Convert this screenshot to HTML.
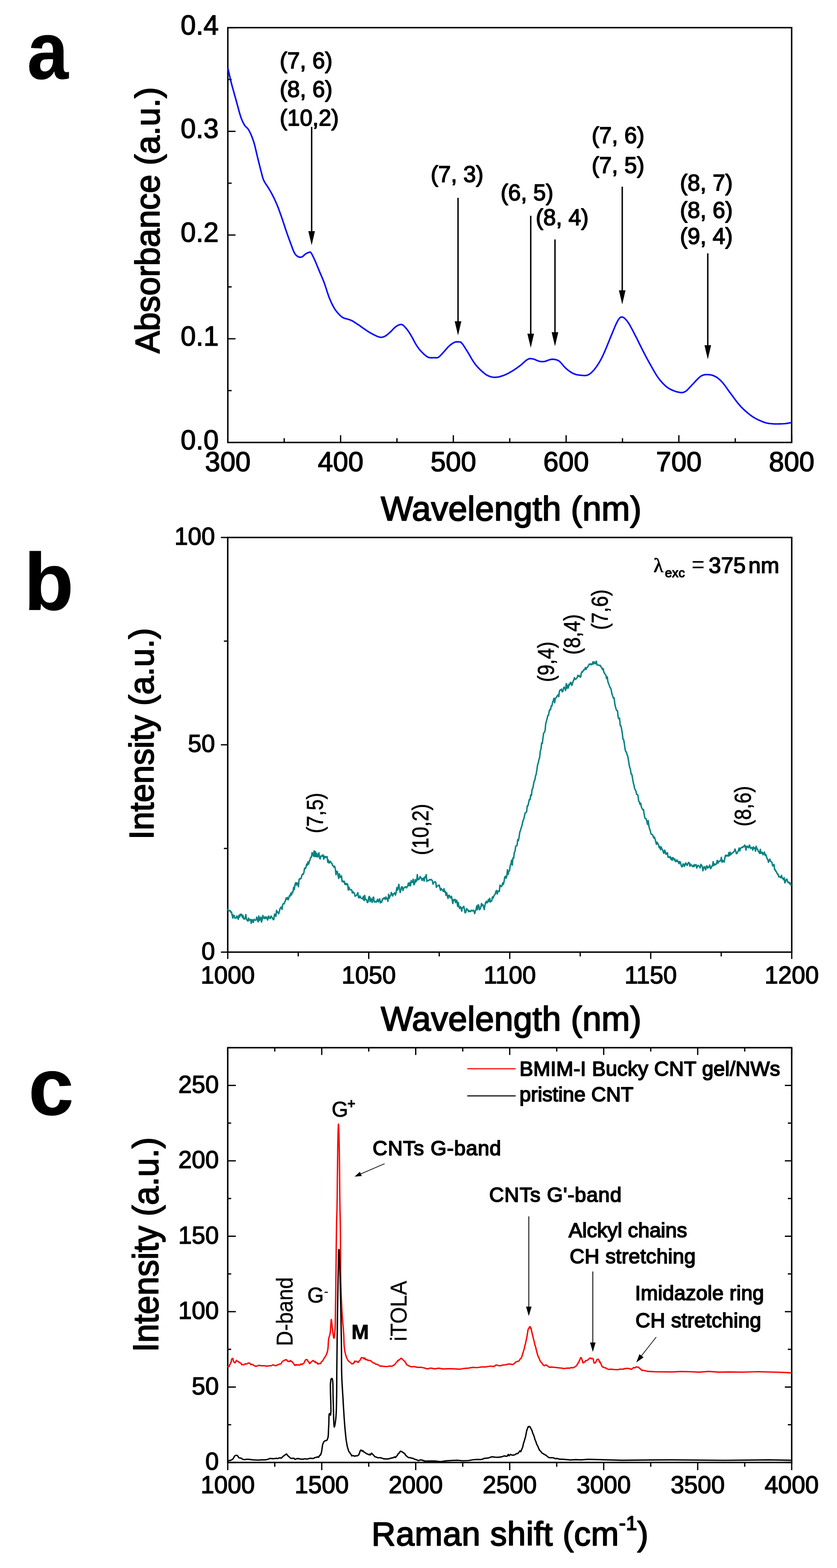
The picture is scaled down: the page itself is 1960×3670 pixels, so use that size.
<!DOCTYPE html><html><head><meta charset="utf-8"><title>Figure</title><style>html,body{margin:0;padding:0;background:#fff;overflow:hidden}svg{display:block}</style></head><body>
<svg width="1960" height="3670" viewBox="0 0 1960 3670" font-family="'Liberation Sans', Arial, sans-serif" fill="#000">
<rect width="1960" height="3670" fill="#fff"/>
<text x="0.0" y="0.0" font-size="190" text-anchor="start" font-weight="bold" stroke="#000" stroke-width="1.0" stroke-linejoin="round" transform="translate(63.8,184) scale(0.91,1)">a</text>
<text x="56.3" y="1427.0" font-size="190" text-anchor="start" font-weight="bold" stroke="#000" stroke-width="1.0" stroke-linejoin="round" >b</text>
<text x="66.7" y="2609.0" font-size="190" text-anchor="start" font-weight="bold" stroke="#000" stroke-width="1.0" stroke-linejoin="round" >c</text>
<line x1="533.5" y1="1035.6" x2="533.5" y2="1018.6" stroke="#000" stroke-width="3.0"/>
<text x="533.5" y="1103.0" font-size="64" text-anchor="middle" font-weight="normal" stroke="#000" stroke-width="1.7" stroke-linejoin="round" >300</text>
<line x1="797.6" y1="1035.6" x2="797.6" y2="1018.6" stroke="#000" stroke-width="3.0"/>
<text x="797.6" y="1103.0" font-size="64" text-anchor="middle" font-weight="normal" stroke="#000" stroke-width="1.7" stroke-linejoin="round" >400</text>
<line x1="1061.6" y1="1035.6" x2="1061.6" y2="1018.6" stroke="#000" stroke-width="3.0"/>
<text x="1061.6" y="1103.0" font-size="64" text-anchor="middle" font-weight="normal" stroke="#000" stroke-width="1.7" stroke-linejoin="round" >500</text>
<line x1="1325.7" y1="1035.6" x2="1325.7" y2="1018.6" stroke="#000" stroke-width="3.0"/>
<text x="1325.7" y="1103.0" font-size="64" text-anchor="middle" font-weight="normal" stroke="#000" stroke-width="1.7" stroke-linejoin="round" >600</text>
<line x1="1589.7" y1="1035.6" x2="1589.7" y2="1018.6" stroke="#000" stroke-width="3.0"/>
<text x="1589.7" y="1103.0" font-size="64" text-anchor="middle" font-weight="normal" stroke="#000" stroke-width="1.7" stroke-linejoin="round" >700</text>
<line x1="1853.8" y1="1035.6" x2="1853.8" y2="1018.6" stroke="#000" stroke-width="3.0"/>
<text x="1853.8" y="1103.0" font-size="64" text-anchor="middle" font-weight="normal" stroke="#000" stroke-width="1.7" stroke-linejoin="round" >800</text>
<line x1="665.5" y1="1035.6" x2="665.5" y2="1025.6" stroke="#000" stroke-width="3.0"/>
<line x1="929.6" y1="1035.6" x2="929.6" y2="1025.6" stroke="#000" stroke-width="3.0"/>
<line x1="1193.7" y1="1035.6" x2="1193.7" y2="1025.6" stroke="#000" stroke-width="3.0"/>
<line x1="1457.7" y1="1035.6" x2="1457.7" y2="1025.6" stroke="#000" stroke-width="3.0"/>
<line x1="1721.8" y1="1035.6" x2="1721.8" y2="1025.6" stroke="#000" stroke-width="3.0"/>
<line x1="533.5" y1="1035.6" x2="551.5" y2="1035.6" stroke="#000" stroke-width="3.0"/>
<text x="512.0" y="1051.6" font-size="64" text-anchor="end" font-weight="normal" stroke="#000" stroke-width="1.7" stroke-linejoin="round" >0.0</text>
<line x1="533.5" y1="792.9" x2="551.5" y2="792.9" stroke="#000" stroke-width="3.0"/>
<text x="512.0" y="808.9" font-size="64" text-anchor="end" font-weight="normal" stroke="#000" stroke-width="1.7" stroke-linejoin="round" >0.1</text>
<line x1="533.5" y1="550.1" x2="551.5" y2="550.1" stroke="#000" stroke-width="3.0"/>
<text x="512.0" y="566.1" font-size="64" text-anchor="end" font-weight="normal" stroke="#000" stroke-width="1.7" stroke-linejoin="round" >0.2</text>
<line x1="533.5" y1="307.4" x2="551.5" y2="307.4" stroke="#000" stroke-width="3.0"/>
<text x="512.0" y="323.4" font-size="64" text-anchor="end" font-weight="normal" stroke="#000" stroke-width="1.7" stroke-linejoin="round" >0.3</text>
<line x1="533.5" y1="64.7" x2="551.5" y2="64.7" stroke="#000" stroke-width="3.0"/>
<text x="512.0" y="80.7" font-size="64" text-anchor="end" font-weight="normal" stroke="#000" stroke-width="1.7" stroke-linejoin="round" >0.4</text>
<line x1="533.5" y1="914.2" x2="542.5" y2="914.2" stroke="#000" stroke-width="3.0"/>
<line x1="533.5" y1="671.5" x2="542.5" y2="671.5" stroke="#000" stroke-width="3.0"/>
<line x1="533.5" y1="428.8" x2="542.5" y2="428.8" stroke="#000" stroke-width="3.0"/>
<line x1="533.5" y1="186.1" x2="542.5" y2="186.1" stroke="#000" stroke-width="3.0"/>
<rect x="533.5" y="64.7" width="1320.3" height="970.8999999999999" fill="none" stroke="#000" stroke-width="3.4"/>
<text x="1197.1" y="1218.0" font-size="80" text-anchor="middle" font-weight="normal" stroke="#000" stroke-width="2.4" stroke-linejoin="round" letter-spacing="0.3" >Wavelength (nm)</text>
<text transform="translate(373.0,515.5) rotate(-90) scale(0.98,1)" font-size="80" text-anchor="middle" font-weight="normal" stroke="#000" stroke-width="2.4" stroke-linejoin="round">Absorbance (a.u.)</text>
<path d="M534.0,161.0 L534.8,164.6 L535.9,169.4 L537.2,175.2 L538.6,181.5 L540.1,188.0 L541.7,194.3 L543.3,200.5 L545.1,206.9 L547.0,213.5 L548.8,220.2 L550.7,226.9 L552.6,233.5 L554.4,240.2 L556.3,247.3 L558.2,254.3 L560.0,261.0 L561.8,267.2 L563.5,272.6 L565.1,277.1 L566.5,280.8 L567.9,284.0 L569.2,286.9 L570.7,289.5 L572.2,292.2 L573.9,294.6 L575.6,296.5 L577.5,298.3 L579.3,300.1 L581.2,302.4 L583.0,305.2 L584.8,308.7 L586.7,312.6 L588.6,316.9 L590.4,321.5 L592.2,326.3 L593.9,331.3 L595.5,336.6 L597.0,342.3 L598.4,348.2 L599.8,354.2 L601.2,360.2 L602.6,366.1 L604.1,372.1 L605.6,378.2 L607.1,384.3 L608.6,390.3 L610.0,395.9 L611.3,400.9 L612.5,405.3 L613.5,409.3 L614.4,412.8 L615.4,416.2 L616.5,419.4 L617.8,422.6 L619.4,425.7 L621.1,428.6 L623.0,431.4 L624.9,434.2 L626.8,437.0 L628.7,440.0 L630.5,443.1 L632.3,446.2 L634.2,449.4 L636.0,452.7 L637.8,456.1 L639.6,459.6 L641.4,463.3 L643.2,467.0 L645.0,470.9 L646.8,474.9 L648.6,479.1 L650.4,483.5 L652.2,488.2 L654.0,493.1 L655.8,498.2 L657.7,503.4 L659.5,508.6 L661.3,513.9 L663.1,519.3 L665.0,524.9 L666.9,530.6 L668.7,536.2 L670.5,541.5 L672.2,546.5 L673.8,551.0 L675.3,555.2 L676.7,559.1 L678.1,562.9 L679.5,566.6 L680.9,570.4 L682.4,574.3 L683.8,578.3 L685.2,582.3 L686.7,586.0 L688.1,589.3 L689.6,592.2 L691.1,594.5 L692.5,596.4 L694.0,597.9 L695.4,599.1 L696.9,600.1 L698.3,600.9 L699.8,601.5 L701.2,601.9 L702.6,602.1 L704.1,602.0 L705.5,601.8 L707.0,601.3 L708.5,600.5 L709.9,599.4 L711.4,598.1 L712.8,596.7 L714.3,595.4 L715.7,594.3 L717.2,593.4 L718.7,592.6 L720.3,591.8 L721.7,591.2 L723.1,590.7 L724.3,590.4 L725.2,590.2 L725.9,590.0 L726.5,590.0 L727.1,590.2 L727.8,590.9 L728.7,592.2 L729.9,594.1 L731.2,596.5 L732.6,599.4 L734.2,602.6 L735.8,606.0 L737.4,609.6 L739.1,613.4 L740.9,617.7 L742.7,622.1 L744.6,626.7 L746.5,631.3 L748.3,635.7 L750.1,640.0 L751.9,644.1 L753.7,648.3 L755.5,652.6 L757.3,657.0 L759.1,661.7 L760.9,666.8 L762.7,672.3 L764.6,678.0 L766.4,683.7 L768.2,689.0 L769.9,693.9 L771.6,698.3 L773.3,702.3 L774.9,706.1 L776.5,709.6 L778.2,712.9 L779.8,716.1 L781.4,719.0 L783.0,721.7 L784.6,724.2 L786.2,726.5 L787.9,728.8 L789.7,731.0 L791.6,733.2 L793.6,735.4 L795.7,737.6 L797.8,739.5 L799.9,741.3 L802.0,742.8 L804.1,743.9 L806.2,744.8 L808.4,745.4 L810.5,745.9 L812.5,746.4 L814.4,747.0 L816.1,747.6 L817.7,748.1 L819.1,748.5 L820.7,749.1 L822.3,749.8 L824.2,750.7 L826.4,751.9 L828.8,753.4 L831.3,755.0 L834.0,756.7 L836.6,758.4 L839.1,760.1 L841.6,761.8 L844.0,763.5 L846.5,765.3 L849.0,767.1 L851.4,768.8 L853.9,770.5 L856.3,772.1 L858.6,773.7 L861.0,775.3 L863.4,776.8 L865.9,778.4 L868.7,779.9 L871.8,781.6 L875.2,783.4 L878.8,785.1 L882.3,786.8 L885.6,788.1 L888.5,789.0 L891.0,789.4 L893.2,789.5 L895.1,789.3 L897.0,788.8 L898.8,788.2 L900.8,787.3 L902.9,786.2 L904.9,784.8 L907.0,783.3 L909.1,781.5 L911.1,779.7 L913.2,777.9 L915.3,775.9 L917.4,773.8 L919.6,771.5 L921.7,769.3 L923.7,767.3 L925.6,765.6 L927.4,764.2 L929.1,763.0 L930.8,762.1 L932.4,761.2 L933.9,760.6 L935.4,760.1 L936.8,759.7 L938.0,759.5 L939.1,759.4 L940.3,759.5 L941.5,759.9 L942.9,760.6 L944.4,761.6 L946.0,763.0 L947.6,764.7 L949.3,766.5 L951.0,768.5 L952.7,770.5 L954.3,772.6 L955.9,774.8 L957.5,777.1 L959.1,779.6 L960.8,782.3 L962.6,785.3 L964.5,788.7 L966.6,792.4 L968.6,796.4 L970.8,800.4 L972.9,804.2 L975.0,807.6 L977.0,810.7 L979.0,813.5 L981.0,816.2 L983.0,818.8 L985.1,821.2 L987.3,823.6 L989.6,826.0 L992.1,828.4 L994.6,830.7 L997.1,832.8 L999.7,834.6 L1002.2,836.0 L1004.7,836.9 L1007.3,837.3 L1009.9,837.4 L1012.4,837.4 L1014.8,837.3 L1017.0,837.2 L1018.9,837.3 L1020.6,837.4 L1022.1,837.5 L1023.6,837.3 L1025.2,836.9 L1026.9,836.0 L1028.8,834.6 L1030.8,832.7 L1032.9,830.6 L1035.0,828.2 L1037.1,825.9 L1039.2,823.6 L1041.3,821.3 L1043.3,819.0 L1045.4,816.6 L1047.5,814.2 L1049.5,812.0 L1051.6,810.0 L1053.7,808.2 L1055.8,806.5 L1057.9,804.9 L1060.0,803.5 L1062.0,802.3 L1063.9,801.4 L1065.7,800.7 L1067.5,800.3 L1069.2,800.1 L1070.8,800.0 L1072.3,800.1 L1073.8,800.2 L1075.1,800.2 L1076.2,800.2 L1077.3,800.3 L1078.4,800.6 L1079.6,801.5 L1081.2,803.0 L1083.1,805.3 L1085.2,808.3 L1087.5,811.8 L1089.9,815.6 L1092.4,819.5 L1094.8,823.3 L1097.2,827.2 L1099.7,831.5 L1102.2,835.8 L1104.7,840.2 L1107.2,844.3 L1109.7,848.0 L1112.1,851.4 L1114.5,854.5 L1116.9,857.3 L1119.4,860.1 L1121.9,862.7 L1124.5,865.3 L1127.2,867.9 L1130.1,870.5 L1133.0,872.9 L1135.9,875.2 L1138.9,877.2 L1141.8,878.9 L1144.7,880.2 L1147.5,881.3 L1150.3,882.1 L1153.2,882.7 L1156.1,883.0 L1159.1,883.1 L1162.2,883.0 L1165.5,882.5 L1168.8,881.9 L1172.1,881.0 L1175.5,880.0 L1178.8,878.9 L1182.1,877.6 L1185.4,876.2 L1188.7,874.5 L1192.0,872.8 L1195.3,870.9 L1198.6,869.0 L1201.9,867.0 L1205.3,864.8 L1208.7,862.5 L1212.0,860.1 L1215.2,857.8 L1218.4,855.4 L1221.5,852.9 L1224.5,850.2 L1227.5,847.5 L1230.4,844.9 L1233.1,842.7 L1235.7,841.1 L1238.0,840.1 L1240.1,839.5 L1242.0,839.4 L1243.9,839.5 L1245.9,839.7 L1248.0,840.1 L1250.4,840.7 L1252.9,841.6 L1255.5,842.8 L1258.0,843.9 L1260.5,844.9 L1262.9,845.6 L1265.1,846.0 L1267.2,846.3 L1269.2,846.4 L1271.2,846.4 L1273.2,846.3 L1275.2,846.0 L1277.3,845.5 L1279.4,844.8 L1281.6,844.0 L1283.7,843.1 L1285.7,842.4 L1287.6,841.8 L1289.4,841.4 L1291.0,841.1 L1292.5,840.9 L1294.0,840.8 L1295.6,840.9 L1297.4,841.1 L1299.3,841.4 L1301.3,841.8 L1303.3,842.3 L1305.4,843.1 L1307.6,844.1 L1309.8,845.6 L1312.1,847.6 L1314.5,850.2 L1316.9,853.1 L1319.4,856.1 L1322.0,859.0 L1324.6,861.6 L1327.3,864.0 L1330.2,866.3 L1333.1,868.5 L1336.0,870.6 L1339.0,872.4 L1341.9,874.0 L1344.8,875.2 L1347.7,876.2 L1350.6,876.9 L1353.4,877.5 L1356.3,877.9 L1359.2,878.2 L1362.1,878.5 L1365.1,878.8 L1368.0,879.0 L1370.9,878.9 L1373.8,878.5 L1376.5,877.7 L1379.1,876.4 L1381.6,874.8 L1384.1,872.9 L1386.5,870.6 L1388.9,868.1 L1391.3,865.3 L1393.8,862.2 L1396.4,858.7 L1398.9,855.0 L1401.5,851.1 L1403.9,847.1 L1406.2,843.1 L1408.3,839.2 L1410.2,835.4 L1412.1,831.5 L1413.9,827.4 L1415.9,822.9 L1418.0,818.0 L1420.4,812.4 L1422.9,806.1 L1425.6,799.6 L1428.3,792.9 L1430.9,786.5 L1433.4,780.5 L1435.8,774.8 L1438.1,769.1 L1440.4,763.6 L1442.7,758.6 L1444.8,754.1 L1446.8,750.4 L1448.6,747.5 L1450.3,745.2 L1451.8,743.6 L1453.3,742.5 L1455.0,742.0 L1456.8,742.0 L1458.8,742.6 L1460.9,743.7 L1463.1,745.4 L1465.4,747.7 L1467.7,750.5 L1470.2,753.7 L1472.8,757.5 L1475.4,762.0 L1478.1,767.0 L1481.0,772.3 L1483.9,778.0 L1486.9,783.8 L1490.1,789.9 L1493.4,796.5 L1496.7,803.4 L1500.2,810.4 L1503.6,817.3 L1507.0,823.9 L1510.4,830.3 L1513.8,836.8 L1517.2,843.1 L1520.6,849.3 L1523.9,855.2 L1527.0,860.7 L1529.9,865.8 L1532.7,870.6 L1535.4,875.2 L1538.1,879.4 L1540.9,883.5 L1543.8,887.5 L1546.9,891.3 L1550.1,895.0 L1553.4,898.5 L1556.8,901.8 L1560.2,904.8 L1563.8,907.5 L1567.6,909.9 L1571.6,912.0 L1575.7,913.8 L1579.8,915.4 L1583.6,916.7 L1587.2,917.6 L1590.4,918.3 L1593.3,918.7 L1596.0,918.9 L1598.6,918.7 L1601.2,918.0 L1603.9,916.9 L1606.7,915.2 L1609.4,912.8 L1612.1,910.1 L1614.9,907.0 L1617.7,903.9 L1620.7,900.8 L1623.9,897.5 L1627.3,893.8 L1630.7,890.0 L1634.2,886.4 L1637.5,883.3 L1640.7,880.8 L1643.7,879.1 L1646.5,878.0 L1649.2,877.3 L1651.9,876.9 L1654.6,876.8 L1657.4,876.8 L1660.2,876.9 L1663.0,877.2 L1665.8,877.7 L1668.6,878.5 L1671.4,879.5 L1674.2,880.8 L1677.0,882.3 L1679.7,884.1 L1682.3,886.1 L1685.1,888.4 L1687.9,891.1 L1690.9,894.2 L1694.0,897.8 L1697.2,902.0 L1700.5,906.5 L1703.9,911.3 L1707.3,916.1 L1710.9,920.9 L1714.6,925.8 L1718.3,930.9 L1722.2,936.2 L1726.1,941.3 L1730.2,946.3 L1734.3,951.0 L1738.6,955.4 L1743.0,959.7 L1747.5,963.7 L1752.0,967.6 L1756.6,971.2 L1761.1,974.4 L1765.6,977.3 L1770.3,980.0 L1774.9,982.3 L1779.4,984.4 L1783.7,986.2 L1787.8,987.8 L1791.5,989.1 L1794.7,990.0 L1797.8,990.6 L1801.0,991.1 L1804.2,991.5 L1807.9,991.8 L1812.1,992.1 L1816.7,992.2 L1821.4,992.2 L1826.1,992.1 L1830.6,992.0 L1834.6,991.8 L1838.2,991.5 L1841.7,991.1 L1845.0,990.6 L1847.8,990.1 L1850.2,989.7 L1852.0,989.4" fill="none" stroke="#0a0aff" stroke-width="3.6" stroke-linejoin="round" stroke-linecap="round" />
<text x="655.0" y="159.5" font-size="53" text-anchor="start" font-weight="normal" stroke="#000" stroke-width="1.9" stroke-linejoin="round" >(7, 6)</text>
<text x="655.0" y="226.5" font-size="53" text-anchor="start" font-weight="normal" stroke="#000" stroke-width="1.9" stroke-linejoin="round" >(8, 6)</text>
<text x="655.0" y="293.6" font-size="53" text-anchor="start" font-weight="normal" stroke="#000" stroke-width="1.9" stroke-linejoin="round" >(10,2)</text>
<line x1="729.8" y1="297.0" x2="729.8" y2="545.0" stroke="#000" stroke-width="3.3"/>
<path d="M722.0,541.0 L737.5,541.0 L729.8,574.0 Z" fill="#000"/>
<text x="1008.5" y="426.2" font-size="53" text-anchor="start" font-weight="normal" stroke="#000" stroke-width="1.9" stroke-linejoin="round" >(7, 3)</text>
<line x1="1072.6" y1="463.0" x2="1072.6" y2="756.0" stroke="#000" stroke-width="3.3"/>
<path d="M1064.8,752.0 L1080.3,752.0 L1072.6,785.0 Z" fill="#000"/>
<text x="1172.3" y="469.4" font-size="53" text-anchor="start" font-weight="normal" stroke="#000" stroke-width="1.9" stroke-linejoin="round" >(6, 5)</text>
<line x1="1242.8" y1="505.0" x2="1242.8" y2="785.0" stroke="#000" stroke-width="3.3"/>
<path d="M1235.0,781.0 L1250.5,781.0 L1242.8,814.0 Z" fill="#000"/>
<text x="1254.6" y="527.3" font-size="53" text-anchor="start" font-weight="normal" stroke="#000" stroke-width="1.9" stroke-linejoin="round" >(8, 4)</text>
<line x1="1299.6" y1="560.5" x2="1299.6" y2="781.5" stroke="#000" stroke-width="3.3"/>
<path d="M1291.8,777.5 L1307.3,777.5 L1299.6,810.5 Z" fill="#000"/>
<text x="1385.4" y="335.3" font-size="53" text-anchor="start" font-weight="normal" stroke="#000" stroke-width="1.9" stroke-linejoin="round" >(7, 6)</text>
<text x="1385.4" y="404.7" font-size="53" text-anchor="start" font-weight="normal" stroke="#000" stroke-width="1.9" stroke-linejoin="round" >(7, 5)</text>
<line x1="1457.1" y1="437.0" x2="1457.1" y2="683.5" stroke="#000" stroke-width="3.3"/>
<path d="M1449.3,679.5 L1464.8,679.5 L1457.1,712.5 Z" fill="#000"/>
<text x="1592.3" y="445.8" font-size="53" text-anchor="start" font-weight="normal" stroke="#000" stroke-width="1.9" stroke-linejoin="round" >(8, 7)</text>
<text x="1592.3" y="509.6" font-size="53" text-anchor="start" font-weight="normal" stroke="#000" stroke-width="1.9" stroke-linejoin="round" >(8, 6)</text>
<text x="1592.3" y="570.5" font-size="53" text-anchor="start" font-weight="normal" stroke="#000" stroke-width="1.9" stroke-linejoin="round" >(9, 4)</text>
<line x1="1657.4" y1="593.0" x2="1657.4" y2="812.0" stroke="#000" stroke-width="3.3"/>
<path d="M1649.7,808.0 L1665.2,808.0 L1657.4,841.0 Z" fill="#000"/>
<line x1="533.3" y1="2228.5" x2="533.3" y2="2244.5" stroke="#000" stroke-width="3.0"/>
<text x="533.3" y="2301.5" font-size="57" text-anchor="middle" font-weight="normal" stroke="#000" stroke-width="1.7" stroke-linejoin="round" >1000</text>
<line x1="863.5" y1="2228.5" x2="863.5" y2="2244.5" stroke="#000" stroke-width="3.0"/>
<text x="863.5" y="2301.5" font-size="57" text-anchor="middle" font-weight="normal" stroke="#000" stroke-width="1.7" stroke-linejoin="round" >1050</text>
<line x1="1193.7" y1="2228.5" x2="1193.7" y2="2244.5" stroke="#000" stroke-width="3.0"/>
<text x="1193.7" y="2301.5" font-size="57" text-anchor="middle" font-weight="normal" stroke="#000" stroke-width="1.7" stroke-linejoin="round" >1100</text>
<line x1="1523.8" y1="2228.5" x2="1523.8" y2="2244.5" stroke="#000" stroke-width="3.0"/>
<text x="1523.8" y="2301.5" font-size="57" text-anchor="middle" font-weight="normal" stroke="#000" stroke-width="1.7" stroke-linejoin="round" >1150</text>
<line x1="1854.0" y1="2228.5" x2="1854.0" y2="2244.5" stroke="#000" stroke-width="3.0"/>
<text x="1854.0" y="2301.5" font-size="57" text-anchor="middle" font-weight="normal" stroke="#000" stroke-width="1.7" stroke-linejoin="round" >1200</text>
<line x1="698.4" y1="2228.5" x2="698.4" y2="2238.5" stroke="#000" stroke-width="3.0"/>
<line x1="1028.6" y1="2228.5" x2="1028.6" y2="2238.5" stroke="#000" stroke-width="3.0"/>
<line x1="1358.7" y1="2228.5" x2="1358.7" y2="2238.5" stroke="#000" stroke-width="3.0"/>
<line x1="1688.9" y1="2228.5" x2="1688.9" y2="2238.5" stroke="#000" stroke-width="3.0"/>
<line x1="533.3" y1="2228.5" x2="517.3" y2="2228.5" stroke="#000" stroke-width="3.0"/>
<text x="503.5" y="2245.5" font-size="57" text-anchor="end" font-weight="normal" stroke="#000" stroke-width="1.7" stroke-linejoin="round" >0</text>
<line x1="533.3" y1="1743.2" x2="517.3" y2="1743.2" stroke="#000" stroke-width="3.0"/>
<text x="503.5" y="1760.2" font-size="57" text-anchor="end" font-weight="normal" stroke="#000" stroke-width="1.7" stroke-linejoin="round" >50</text>
<line x1="533.3" y1="1258.0" x2="517.3" y2="1258.0" stroke="#000" stroke-width="3.0"/>
<text x="503.5" y="1275.0" font-size="57" text-anchor="end" font-weight="normal" stroke="#000" stroke-width="1.7" stroke-linejoin="round" >100</text>
<line x1="533.3" y1="1985.9" x2="524.3" y2="1985.9" stroke="#000" stroke-width="3.0"/>
<line x1="533.3" y1="1500.6" x2="524.3" y2="1500.6" stroke="#000" stroke-width="3.0"/>
<rect x="533.3" y="1258.0" width="1320.7" height="970.5" fill="none" stroke="#000" stroke-width="3.4"/>
<text x="1197.0" y="2411.5" font-size="80" text-anchor="middle" font-weight="normal" stroke="#000" stroke-width="2.4" stroke-linejoin="round" letter-spacing="0.3" >Wavelength (nm)</text>
<text transform="translate(359.4,1717.3) rotate(-90) scale(0.977,1)" font-size="80" text-anchor="middle" font-weight="normal" stroke="#000" stroke-width="2.4" stroke-linejoin="round">Intensity (a.u.)</text>
<path d="M534.0,2128.6 L535.6,2132.1 L537.2,2131.6 L538.8,2130.9 L540.4,2135.0 L542.0,2134.6 L543.6,2141.3 L545.2,2148.9 L546.8,2142.0 L548.4,2142.7 L550.0,2148.9 L551.6,2149.0 L553.2,2148.3 L554.8,2143.9 L556.4,2148.2 L558.0,2151.6 L559.6,2142.3 L561.2,2146.3 L562.8,2139.7 L564.4,2142.5 L566.0,2140.0 L567.6,2147.5 L569.2,2143.1 L570.8,2150.8 L572.4,2151.0 L574.0,2150.4 L575.6,2140.7 L577.2,2151.0 L578.8,2154.3 L580.4,2155.9 L582.0,2148.9 L583.6,2154.1 L585.2,2151.9 L586.8,2152.6 L588.4,2161.0 L590.0,2152.1 L591.6,2155.2 L593.2,2159.0 L594.8,2151.7 L596.4,2153.4 L598.0,2153.8 L599.6,2153.1 L601.2,2146.7 L602.8,2152.2 L604.4,2157.6 L606.0,2143.9 L607.6,2154.5 L609.2,2150.6 L610.8,2146.6 L612.4,2158.3 L614.0,2152.1 L615.6,2142.6 L617.2,2148.1 L618.8,2150.0 L620.4,2146.1 L622.0,2149.8 L623.6,2146.2 L625.2,2149.6 L626.8,2153.4 L628.4,2144.1 L630.0,2148.8 L631.6,2146.4 L633.2,2149.7 L634.8,2144.1 L636.4,2146.9 L638.0,2148.3 L639.6,2152.5 L641.2,2152.4 L642.8,2139.6 L644.4,2140.2 L646.0,2144.9 L647.6,2130.6 L649.2,2135.4 L650.8,2134.8 L652.4,2138.8 L654.0,2134.0 L655.6,2127.1 L657.2,2124.6 L658.8,2122.7 L660.4,2128.4 L662.0,2116.9 L663.6,2115.0 L665.2,2115.6 L666.8,2111.0 L668.4,2108.4 L670.0,2101.9 L671.6,2104.8 L673.2,2100.6 L674.8,2105.9 L676.4,2101.3 L678.0,2096.1 L679.6,2097.1 L681.2,2090.3 L682.8,2094.5 L684.4,2087.5 L686.0,2087.9 L687.6,2076.9 L689.2,2082.1 L690.8,2070.3 L692.4,2066.2 L694.0,2071.6 L695.6,2066.2 L697.2,2068.4 L698.8,2075.3 L700.4,2058.3 L702.0,2056.4 L703.6,2057.2 L705.2,2055.5 L706.8,2049.2 L708.4,2045.8 L710.0,2046.6 L711.6,2042.4 L713.2,2032.0 L714.8,2033.1 L716.4,2030.5 L718.0,2022.5 L719.6,2025.5 L721.2,2017.2 L722.8,2022.5 L724.4,2015.9 L726.0,2012.5 L727.6,2006.7 L729.2,2006.4 L730.8,1995.7 L732.4,1998.1 L734.0,2003.8 L735.6,1991.7 L737.2,2005.1 L738.8,1993.2 L740.4,2004.9 L742.0,1997.9 L743.6,2005.9 L745.2,2003.3 L746.8,1996.0 L748.4,2009.1 L750.0,2010.3 L751.6,2003.7 L753.2,2003.1 L754.8,2004.0 L756.4,2000.8 L758.0,2010.9 L759.6,2004.1 L761.2,2007.2 L762.8,2004.9 L764.4,2006.8 L766.0,2005.1 L767.6,2018.2 L769.2,2013.2 L770.8,2020.0 L772.4,2017.4 L774.0,2016.0 L775.6,2019.7 L777.2,2020.7 L778.8,2025.6 L780.4,2026.5 L782.0,2029.6 L783.6,2027.5 L785.2,2033.1 L786.8,2047.2 L788.4,2039.3 L790.0,2040.1 L791.6,2049.0 L793.2,2056.1 L794.8,2045.2 L796.4,2053.0 L798.0,2053.2 L799.6,2050.0 L801.2,2063.5 L802.8,2062.0 L804.4,2064.3 L806.0,2062.5 L807.6,2069.9 L809.2,2067.2 L810.8,2070.8 L812.4,2068.2 L814.0,2069.5 L815.6,2083.1 L817.2,2076.5 L818.8,2082.0 L820.4,2082.3 L822.0,2082.1 L823.6,2083.4 L825.2,2090.2 L826.8,2087.4 L828.4,2089.4 L830.0,2091.4 L831.6,2097.8 L833.2,2096.5 L834.8,2096.0 L836.4,2092.5 L838.0,2089.4 L839.6,2100.8 L841.2,2101.5 L842.8,2097.0 L844.4,2100.7 L846.0,2102.3 L847.6,2103.0 L849.2,2104.0 L850.8,2098.1 L852.4,2107.7 L854.0,2095.6 L855.6,2105.8 L857.2,2104.7 L858.8,2107.1 L860.4,2112.4 L862.0,2111.2 L863.6,2099.8 L865.2,2098.0 L866.8,2110.2 L868.4,2102.4 L870.0,2107.7 L871.6,2112.2 L873.2,2101.4 L874.8,2099.8 L876.4,2111.3 L878.0,2110.8 L879.6,2109.9 L881.2,2111.5 L882.8,2107.7 L884.4,2104.8 L886.0,2111.1 L887.6,2107.3 L889.2,2103.9 L890.8,2113.4 L892.4,2110.2 L894.0,2111.5 L895.6,2104.1 L897.2,2104.6 L898.8,2101.9 L900.4,2101.2 L902.0,2105.1 L903.6,2099.5 L905.2,2103.8 L906.8,2102.8 L908.4,2109.7 L910.0,2093.0 L911.6,2102.6 L913.2,2097.1 L914.8,2096.5 L916.4,2088.9 L918.0,2092.5 L919.6,2097.1 L921.2,2092.3 L922.8,2092.1 L924.4,2089.4 L926.0,2095.1 L927.6,2088.7 L929.2,2077.7 L930.8,2083.7 L932.4,2076.8 L934.0,2070.0 L935.6,2081.5 L937.2,2089.2 L938.8,2082.3 L940.4,2075.7 L942.0,2075.8 L943.6,2084.4 L945.2,2079.0 L946.8,2077.5 L948.4,2076.1 L950.0,2075.5 L951.6,2078.1 L953.2,2076.0 L954.8,2073.5 L956.4,2066.7 L958.0,2072.8 L959.6,2066.2 L961.2,2073.3 L962.8,2061.3 L964.4,2065.4 L966.0,2065.0 L967.6,2057.8 L969.2,2070.8 L970.8,2068.7 L972.4,2059.0 L974.0,2063.9 L975.6,2061.4 L977.2,2046.9 L978.8,2059.4 L980.4,2057.4 L982.0,2057.5 L983.6,2051.6 L985.2,2054.9 L986.8,2054.9 L988.4,2060.9 L990.0,2056.8 L991.6,2055.1 L993.2,2062.1 L994.8,2052.6 L996.4,2053.5 L998.0,2047.2 L999.6,2063.1 L1001.2,2060.7 L1002.8,2061.0 L1004.4,2060.4 L1006.0,2058.5 L1007.6,2059.7 L1009.2,2058.3 L1010.8,2059.4 L1012.4,2061.6 L1014.0,2069.3 L1015.6,2066.1 L1017.2,2064.6 L1018.8,2063.7 L1020.4,2065.0 L1022.0,2076.9 L1023.6,2073.6 L1025.2,2073.3 L1026.8,2073.2 L1028.4,2071.4 L1030.0,2077.9 L1031.6,2083.9 L1033.2,2079.7 L1034.8,2082.0 L1036.4,2083.5 L1038.0,2086.5 L1039.6,2080.1 L1041.2,2087.7 L1042.8,2086.3 L1044.4,2095.6 L1046.0,2089.4 L1047.6,2097.0 L1049.2,2102.7 L1050.8,2095.6 L1052.4,2095.7 L1054.0,2100.7 L1055.6,2101.3 L1057.2,2098.1 L1058.8,2106.2 L1060.4,2114.8 L1062.0,2105.8 L1063.6,2107.5 L1065.2,2105.0 L1066.8,2112.7 L1068.4,2106.9 L1070.0,2108.9 L1071.6,2121.2 L1073.2,2112.5 L1074.8,2123.0 L1076.4,2126.4 L1078.0,2122.0 L1079.6,2124.8 L1081.2,2132.6 L1082.8,2124.1 L1084.4,2123.6 L1086.0,2121.4 L1087.6,2129.0 L1089.2,2136.6 L1090.8,2135.1 L1092.4,2127.0 L1094.0,2127.9 L1095.6,2129.9 L1097.2,2133.8 L1098.8,2131.5 L1100.4,2133.3 L1102.0,2133.5 L1103.6,2130.5 L1105.2,2131.4 L1106.8,2132.1 L1108.4,2130.3 L1110.0,2132.5 L1111.6,2138.3 L1113.2,2131.9 L1114.8,2128.9 L1116.4,2120.3 L1118.0,2129.2 L1119.6,2117.8 L1121.2,2119.5 L1122.8,2129.2 L1124.4,2127.6 L1126.0,2122.8 L1127.6,2114.7 L1129.2,2119.9 L1130.8,2117.5 L1132.4,2122.5 L1134.0,2128.8 L1135.6,2118.3 L1137.2,2112.5 L1138.8,2109.5 L1140.4,2113.3 L1142.0,2111.4 L1143.6,2105.5 L1145.2,2109.9 L1146.8,2102.5 L1148.4,2111.4 L1150.0,2109.6 L1151.6,2108.0 L1153.2,2099.2 L1154.8,2102.0 L1156.4,2097.4 L1158.0,2094.5 L1159.6,2092.9 L1161.2,2086.7 L1162.8,2084.1 L1164.4,2092.5 L1166.0,2085.9 L1167.6,2085.5 L1169.2,2086.8 L1170.8,2071.8 L1172.4,2073.5 L1174.0,2075.1 L1175.6,2073.2 L1177.2,2066.6 L1178.8,2070.0 L1180.4,2062.9 L1182.0,2053.0 L1183.6,2050.9 L1185.2,2055.3 L1186.8,2050.1 L1188.4,2035.4 L1190.0,2046.5 L1191.6,2039.0 L1193.2,2038.3 L1194.8,2026.0 L1196.4,2021.8 L1198.0,2013.2 L1199.6,2025.1 L1201.2,2007.6 L1202.8,2008.7 L1204.4,1995.2 L1206.0,1992.7 L1207.6,1980.7 L1209.2,1979.8 L1210.8,1979.0 L1212.4,1965.0 L1214.0,1967.4 L1215.6,1958.7 L1217.2,1947.7 L1218.8,1943.7 L1220.4,1937.9 L1222.0,1933.5 L1223.6,1926.1 L1225.2,1919.6 L1226.8,1916.2 L1228.4,1908.4 L1230.0,1902.3 L1231.6,1901.7 L1233.2,1899.8 L1234.8,1885.9 L1236.4,1886.0 L1238.0,1878.0 L1239.6,1871.1 L1241.2,1871.7 L1242.8,1860.8 L1244.4,1862.0 L1246.0,1847.6 L1247.6,1845.4 L1249.2,1836.7 L1250.8,1828.2 L1252.4,1826.2 L1254.0,1816.5 L1255.6,1812.0 L1257.2,1802.1 L1258.8,1790.4 L1260.4,1785.8 L1262.0,1778.1 L1263.6,1773.1 L1265.2,1758.0 L1266.8,1753.0 L1268.4,1738.9 L1270.0,1739.8 L1271.6,1725.9 L1273.2,1715.6 L1274.8,1714.0 L1276.4,1710.4 L1278.0,1693.4 L1279.6,1687.7 L1281.2,1682.2 L1282.8,1674.6 L1284.4,1674.3 L1286.0,1664.9 L1287.6,1660.6 L1289.2,1661.0 L1290.8,1652.1 L1292.4,1652.6 L1294.0,1644.0 L1295.6,1639.8 L1297.2,1634.5 L1298.8,1644.9 L1300.4,1634.3 L1302.0,1633.7 L1303.6,1630.3 L1305.2,1628.7 L1306.8,1626.1 L1308.4,1630.8 L1310.0,1618.3 L1311.6,1614.9 L1313.2,1615.4 L1314.8,1612.9 L1316.4,1619.2 L1318.0,1618.3 L1319.6,1610.8 L1321.2,1608.2 L1322.8,1610.9 L1324.4,1616.2 L1326.0,1600.0 L1327.6,1611.0 L1329.2,1604.0 L1330.8,1610.5 L1332.4,1601.5 L1334.0,1602.9 L1335.6,1597.1 L1337.2,1597.4 L1338.8,1604.4 L1340.4,1600.8 L1342.0,1594.8 L1343.6,1591.5 L1345.2,1586.2 L1346.8,1590.0 L1348.4,1589.6 L1350.0,1587.8 L1351.6,1586.1 L1353.2,1580.7 L1354.8,1582.9 L1356.4,1581.3 L1358.0,1584.5 L1359.6,1584.9 L1361.2,1576.1 L1362.8,1572.1 L1364.4,1572.9 L1366.0,1569.2 L1367.6,1567.0 L1369.2,1567.7 L1370.8,1562.4 L1372.4,1566.6 L1374.0,1562.5 L1375.6,1562.2 L1377.2,1559.2 L1378.8,1556.0 L1380.4,1554.1 L1382.0,1555.7 L1383.6,1553.7 L1385.2,1555.8 L1386.8,1554.5 L1388.4,1549.2 L1390.0,1554.2 L1391.6,1549.2 L1393.2,1552.0 L1394.8,1553.5 L1396.4,1547.6 L1398.0,1556.0 L1399.6,1556.9 L1401.2,1556.7 L1402.8,1556.7 L1404.4,1558.1 L1406.0,1557.4 L1407.6,1561.6 L1409.2,1562.6 L1410.8,1567.1 L1412.4,1565.0 L1414.0,1573.1 L1415.6,1575.9 L1417.2,1578.2 L1418.8,1580.8 L1420.4,1588.2 L1422.0,1584.3 L1423.6,1596.2 L1425.2,1599.7 L1426.8,1604.3 L1428.4,1609.3 L1430.0,1610.2 L1431.6,1616.6 L1433.2,1624.8 L1434.8,1629.3 L1436.4,1633.9 L1438.0,1633.2 L1439.6,1646.3 L1441.2,1654.4 L1442.8,1659.9 L1444.4,1663.3 L1446.0,1663.4 L1447.6,1679.2 L1449.2,1682.2 L1450.8,1680.7 L1452.4,1698.3 L1454.0,1698.8 L1455.6,1706.7 L1457.2,1716.1 L1458.8,1730.0 L1460.4,1731.1 L1462.0,1740.4 L1463.6,1752.7 L1465.2,1759.2 L1466.8,1760.0 L1468.4,1766.5 L1470.0,1769.8 L1471.6,1778.7 L1473.2,1789.5 L1474.8,1796.1 L1476.4,1801.9 L1478.0,1811.9 L1479.6,1812.4 L1481.2,1821.8 L1482.8,1831.3 L1484.4,1837.2 L1486.0,1845.1 L1487.6,1848.6 L1489.2,1851.6 L1490.8,1859.3 L1492.4,1859.5 L1494.0,1862.1 L1495.6,1874.8 L1497.2,1877.0 L1498.8,1882.8 L1500.4,1880.0 L1502.0,1889.0 L1503.6,1892.4 L1505.2,1895.6 L1506.8,1894.7 L1508.4,1905.7 L1510.0,1914.1 L1511.6,1916.3 L1513.2,1916.7 L1514.8,1922.8 L1516.4,1929.6 L1518.0,1920.8 L1519.6,1934.1 L1521.2,1940.3 L1522.8,1944.4 L1524.4,1951.6 L1526.0,1953.0 L1527.6,1953.3 L1529.2,1956.4 L1530.8,1961.1 L1532.4,1959.3 L1534.0,1963.8 L1535.6,1970.0 L1537.2,1976.4 L1538.8,1971.3 L1540.4,1974.2 L1542.0,1977.6 L1543.6,1984.0 L1545.2,1981.4 L1546.8,1989.0 L1548.4,1982.3 L1550.0,1987.2 L1551.6,1989.1 L1553.2,1994.5 L1554.8,1997.3 L1556.4,1989.8 L1558.0,1993.6 L1559.6,1999.6 L1561.2,1997.6 L1562.8,1995.8 L1564.4,2006.4 L1566.0,2005.7 L1567.6,2007.0 L1569.2,2004.6 L1570.8,2011.2 L1572.4,2007.7 L1574.0,2013.6 L1575.6,2007.3 L1577.2,2008.5 L1578.8,2013.2 L1580.4,2010.9 L1582.0,2016.7 L1583.6,2016.0 L1585.2,2012.6 L1586.8,2016.9 L1588.4,2016.2 L1590.0,2021.5 L1591.6,2016.6 L1593.2,2017.9 L1594.8,2024.5 L1596.4,2028.7 L1598.0,2028.4 L1599.6,2021.9 L1601.2,2022.9 L1602.8,2028.0 L1604.4,2022.4 L1606.0,2019.7 L1607.6,2024.0 L1609.2,2025.5 L1610.8,2021.2 L1612.4,2018.5 L1614.0,2019.6 L1615.6,2027.4 L1617.2,2022.5 L1618.8,2025.0 L1620.4,2026.6 L1622.0,2028.3 L1623.6,2025.1 L1625.2,2028.4 L1626.8,2023.7 L1628.4,2025.8 L1630.0,2023.7 L1631.6,2031.7 L1633.2,2027.8 L1634.8,2025.4 L1636.4,2027.0 L1638.0,2027.7 L1639.6,2031.2 L1641.2,2023.0 L1642.8,2025.1 L1644.4,2027.5 L1646.0,2038.0 L1647.6,2032.3 L1649.2,2028.4 L1650.8,2031.2 L1652.4,2035.9 L1654.0,2027.4 L1655.6,2026.7 L1657.2,2032.1 L1658.8,2029.2 L1660.4,2029.4 L1662.0,2024.8 L1663.6,2033.1 L1665.2,2031.8 L1666.8,2027.2 L1668.4,2027.1 L1670.0,2016.7 L1671.6,2025.7 L1673.2,2022.1 L1674.8,2023.7 L1676.4,2023.9 L1678.0,2019.5 L1679.6,2013.9 L1681.2,2020.6 L1682.8,2015.8 L1684.4,2016.5 L1686.0,2014.6 L1687.6,2014.7 L1689.2,2006.6 L1690.8,2018.3 L1692.4,2013.8 L1694.0,2015.8 L1695.6,2017.8 L1697.2,2009.6 L1698.8,2001.9 L1700.4,2004.0 L1702.0,2001.7 L1703.6,2003.1 L1705.2,2004.0 L1706.8,1995.4 L1708.4,2002.7 L1710.0,1995.0 L1711.6,2000.4 L1713.2,1997.9 L1714.8,1996.2 L1716.4,1996.1 L1718.0,1993.5 L1719.6,1992.2 L1721.2,1987.3 L1722.8,1992.2 L1724.4,1998.0 L1726.0,1997.4 L1727.6,1994.0 L1729.2,1990.8 L1730.8,1984.9 L1732.4,1991.6 L1734.0,1985.3 L1735.6,1984.5 L1737.2,1982.9 L1738.8,1983.7 L1740.4,1981.2 L1742.0,1982.0 L1743.6,1977.9 L1745.2,1980.3 L1746.8,1989.6 L1748.4,1981.1 L1750.0,1980.5 L1751.6,1983.4 L1753.2,1984.2 L1754.8,1977.9 L1756.4,1981.5 L1758.0,1985.9 L1759.6,1984.0 L1761.2,1984.0 L1762.8,1989.7 L1764.4,1982.3 L1766.0,1985.7 L1767.6,1984.3 L1769.2,1992.3 L1770.8,1980.7 L1772.4,1986.2 L1774.0,1987.6 L1775.6,1992.8 L1777.2,1993.6 L1778.8,1997.5 L1780.4,1987.9 L1782.0,1997.5 L1783.6,1994.9 L1785.2,1995.0 L1786.8,2000.7 L1788.4,1997.0 L1790.0,1994.4 L1791.6,2002.2 L1793.2,1999.9 L1794.8,2004.7 L1796.4,2010.1 L1798.0,2011.8 L1799.6,2018.3 L1801.2,2013.8 L1802.8,2010.9 L1804.4,2015.7 L1806.0,2017.2 L1807.6,2018.4 L1809.2,2026.8 L1810.8,2025.5 L1812.4,2023.4 L1814.0,2035.8 L1815.6,2035.6 L1817.2,2040.0 L1818.8,2041.6 L1820.4,2046.0 L1822.0,2046.0 L1823.6,2052.3 L1825.2,2051.2 L1826.8,2052.7 L1828.4,2054.3 L1830.0,2049.0 L1831.6,2055.0 L1833.2,2056.0 L1834.8,2058.9 L1836.4,2054.5 L1838.0,2066.4 L1839.6,2062.1 L1841.2,2058.5 L1842.8,2057.8 L1844.4,2064.0 L1846.0,2065.8 L1847.6,2064.6 L1849.2,2068.7 L1850.8,2067.1 L1852.4,2072.5" fill="none" stroke="#058282" stroke-width="3.4" stroke-linejoin="round" stroke-linecap="round" stroke-linejoin="miter"/>
<text transform="translate(1296.5,1549.0) rotate(-90) scale(0.85,1)" font-size="54" text-anchor="middle" font-weight="normal" stroke="#000" stroke-width="1.0" stroke-linejoin="round">(9,4)</text>
<text transform="translate(1357.5,1485.0) rotate(-90) scale(0.85,1)" font-size="54" text-anchor="middle" font-weight="normal" stroke="#000" stroke-width="1.0" stroke-linejoin="round">(8,4)</text>
<text transform="translate(1423.0,1427.0) rotate(-90) scale(0.85,1)" font-size="54" text-anchor="middle" font-weight="normal" stroke="#000" stroke-width="1.0" stroke-linejoin="round">(7,6)</text>
<text transform="translate(1757.5,1887.0) rotate(-90) scale(0.85,1)" font-size="54" text-anchor="middle" font-weight="normal" stroke="#000" stroke-width="1.0" stroke-linejoin="round">(8,6)</text>
<text transform="translate(756.0,1903.0) rotate(-90) scale(0.85,1)" font-size="54" text-anchor="middle" font-weight="normal" stroke="#000" stroke-width="1.0" stroke-linejoin="round">(7,5)</text>
<text transform="translate(1003.0,1941.5) rotate(-90) scale(0.85,1)" font-size="54" text-anchor="middle" font-weight="normal" stroke="#000" stroke-width="1.0" stroke-linejoin="round">(10,2)</text>
<text x="1530.5" y="1339" font-size="47" font-family="'Liberation Serif', serif" stroke="#000" stroke-width="1.2">λ</text>
<text x="1557.0" y="1351.0" font-size="30" text-anchor="start" font-weight="normal" stroke="#000" stroke-width="1.6" stroke-linejoin="round" >exc</text>
<text x="1619.5" y="1339.0" font-size="52" text-anchor="start" font-weight="normal" stroke="#000" stroke-width="0.2" stroke-linejoin="round" >=</text>
<text x="1659.5" y="1340.5" font-size="52" text-anchor="start" font-weight="normal" stroke="#000" stroke-width="1.9" stroke-linejoin="round" >375</text>
<text x="1752.5" y="1340.5" font-size="52" text-anchor="start" font-weight="normal" stroke="#000" stroke-width="1.9" stroke-linejoin="round" >nm</text>
<line x1="533.3" y1="3423.0" x2="533.3" y2="3441.0" stroke="#000" stroke-width="3.0"/>
<line x1="533.3" y1="2452.2" x2="533.3" y2="2469.2" stroke="#000" stroke-width="3.0"/>
<text x="533.3" y="3495.3" font-size="57" text-anchor="middle" font-weight="normal" stroke="#000" stroke-width="1.7" stroke-linejoin="round" >1000</text>
<line x1="753.4" y1="3423.0" x2="753.4" y2="3441.0" stroke="#000" stroke-width="3.0"/>
<line x1="753.4" y1="2452.2" x2="753.4" y2="2469.2" stroke="#000" stroke-width="3.0"/>
<text x="753.4" y="3495.3" font-size="57" text-anchor="middle" font-weight="normal" stroke="#000" stroke-width="1.7" stroke-linejoin="round" >1500</text>
<line x1="973.5" y1="3423.0" x2="973.5" y2="3441.0" stroke="#000" stroke-width="3.0"/>
<line x1="973.5" y1="2452.2" x2="973.5" y2="2469.2" stroke="#000" stroke-width="3.0"/>
<text x="973.5" y="3495.3" font-size="57" text-anchor="middle" font-weight="normal" stroke="#000" stroke-width="1.7" stroke-linejoin="round" >2000</text>
<line x1="1193.6" y1="3423.0" x2="1193.6" y2="3441.0" stroke="#000" stroke-width="3.0"/>
<line x1="1193.6" y1="2452.2" x2="1193.6" y2="2469.2" stroke="#000" stroke-width="3.0"/>
<text x="1193.6" y="3495.3" font-size="57" text-anchor="middle" font-weight="normal" stroke="#000" stroke-width="1.7" stroke-linejoin="round" >2500</text>
<line x1="1413.7" y1="3423.0" x2="1413.7" y2="3441.0" stroke="#000" stroke-width="3.0"/>
<line x1="1413.7" y1="2452.2" x2="1413.7" y2="2469.2" stroke="#000" stroke-width="3.0"/>
<text x="1413.7" y="3495.3" font-size="57" text-anchor="middle" font-weight="normal" stroke="#000" stroke-width="1.7" stroke-linejoin="round" >3000</text>
<line x1="1633.8" y1="3423.0" x2="1633.8" y2="3441.0" stroke="#000" stroke-width="3.0"/>
<line x1="1633.8" y1="2452.2" x2="1633.8" y2="2469.2" stroke="#000" stroke-width="3.0"/>
<text x="1633.8" y="3495.3" font-size="57" text-anchor="middle" font-weight="normal" stroke="#000" stroke-width="1.7" stroke-linejoin="round" >3500</text>
<line x1="1853.9" y1="3423.0" x2="1853.9" y2="3441.0" stroke="#000" stroke-width="3.0"/>
<line x1="1853.9" y1="2452.2" x2="1853.9" y2="2469.2" stroke="#000" stroke-width="3.0"/>
<text x="1853.9" y="3495.3" font-size="57" text-anchor="middle" font-weight="normal" stroke="#000" stroke-width="1.7" stroke-linejoin="round" >4000</text>
<line x1="643.4" y1="3423.0" x2="643.4" y2="3433.0" stroke="#000" stroke-width="3.0"/>
<line x1="643.4" y1="2452.2" x2="643.4" y2="2461.2" stroke="#000" stroke-width="3.0"/>
<line x1="863.5" y1="3423.0" x2="863.5" y2="3433.0" stroke="#000" stroke-width="3.0"/>
<line x1="863.5" y1="2452.2" x2="863.5" y2="2461.2" stroke="#000" stroke-width="3.0"/>
<line x1="1083.6" y1="3423.0" x2="1083.6" y2="3433.0" stroke="#000" stroke-width="3.0"/>
<line x1="1083.6" y1="2452.2" x2="1083.6" y2="2461.2" stroke="#000" stroke-width="3.0"/>
<line x1="1303.7" y1="3423.0" x2="1303.7" y2="3433.0" stroke="#000" stroke-width="3.0"/>
<line x1="1303.7" y1="2452.2" x2="1303.7" y2="2461.2" stroke="#000" stroke-width="3.0"/>
<line x1="1523.8" y1="3423.0" x2="1523.8" y2="3433.0" stroke="#000" stroke-width="3.0"/>
<line x1="1523.8" y1="2452.2" x2="1523.8" y2="2461.2" stroke="#000" stroke-width="3.0"/>
<line x1="1743.9" y1="3423.0" x2="1743.9" y2="3433.0" stroke="#000" stroke-width="3.0"/>
<line x1="1743.9" y1="2452.2" x2="1743.9" y2="2461.2" stroke="#000" stroke-width="3.0"/>
<line x1="533.3" y1="3423.0" x2="552.3" y2="3423.0" stroke="#000" stroke-width="3.0"/>
<line x1="1853.9" y1="3423.0" x2="1837.9" y2="3423.0" stroke="#000" stroke-width="3.0"/>
<text x="512.5" y="3440.0" font-size="57" text-anchor="end" font-weight="normal" stroke="#000" stroke-width="1.7" stroke-linejoin="round" >0</text>
<line x1="533.3" y1="3246.5" x2="552.3" y2="3246.5" stroke="#000" stroke-width="3.0"/>
<line x1="1853.9" y1="3246.5" x2="1837.9" y2="3246.5" stroke="#000" stroke-width="3.0"/>
<text x="512.5" y="3263.5" font-size="57" text-anchor="end" font-weight="normal" stroke="#000" stroke-width="1.7" stroke-linejoin="round" >50</text>
<line x1="533.3" y1="3070.0" x2="552.3" y2="3070.0" stroke="#000" stroke-width="3.0"/>
<line x1="1853.9" y1="3070.0" x2="1837.9" y2="3070.0" stroke="#000" stroke-width="3.0"/>
<text x="512.5" y="3087.0" font-size="57" text-anchor="end" font-weight="normal" stroke="#000" stroke-width="1.7" stroke-linejoin="round" >100</text>
<line x1="533.3" y1="2893.5" x2="552.3" y2="2893.5" stroke="#000" stroke-width="3.0"/>
<line x1="1853.9" y1="2893.5" x2="1837.9" y2="2893.5" stroke="#000" stroke-width="3.0"/>
<text x="512.5" y="2910.5" font-size="57" text-anchor="end" font-weight="normal" stroke="#000" stroke-width="1.7" stroke-linejoin="round" >150</text>
<line x1="533.3" y1="2717.0" x2="552.3" y2="2717.0" stroke="#000" stroke-width="3.0"/>
<line x1="1853.9" y1="2717.0" x2="1837.9" y2="2717.0" stroke="#000" stroke-width="3.0"/>
<text x="512.5" y="2734.0" font-size="57" text-anchor="end" font-weight="normal" stroke="#000" stroke-width="1.7" stroke-linejoin="round" >200</text>
<line x1="533.3" y1="2540.5" x2="552.3" y2="2540.5" stroke="#000" stroke-width="3.0"/>
<line x1="1853.9" y1="2540.5" x2="1837.9" y2="2540.5" stroke="#000" stroke-width="3.0"/>
<text x="512.5" y="2557.5" font-size="57" text-anchor="end" font-weight="normal" stroke="#000" stroke-width="1.7" stroke-linejoin="round" >250</text>
<line x1="533.3" y1="3334.7" x2="541.3" y2="3334.7" stroke="#000" stroke-width="3.0"/>
<line x1="1853.9" y1="3334.7" x2="1844.9" y2="3334.7" stroke="#000" stroke-width="3.0"/>
<line x1="533.3" y1="3158.2" x2="541.3" y2="3158.2" stroke="#000" stroke-width="3.0"/>
<line x1="1853.9" y1="3158.2" x2="1844.9" y2="3158.2" stroke="#000" stroke-width="3.0"/>
<line x1="533.3" y1="2981.7" x2="541.3" y2="2981.7" stroke="#000" stroke-width="3.0"/>
<line x1="1853.9" y1="2981.7" x2="1844.9" y2="2981.7" stroke="#000" stroke-width="3.0"/>
<line x1="533.3" y1="2805.2" x2="541.3" y2="2805.2" stroke="#000" stroke-width="3.0"/>
<line x1="1853.9" y1="2805.2" x2="1844.9" y2="2805.2" stroke="#000" stroke-width="3.0"/>
<line x1="533.3" y1="2628.7" x2="541.3" y2="2628.7" stroke="#000" stroke-width="3.0"/>
<line x1="1853.9" y1="2628.7" x2="1844.9" y2="2628.7" stroke="#000" stroke-width="3.0"/>
<line x1="533.3" y1="2452.2" x2="541.3" y2="2452.2" stroke="#000" stroke-width="3.0"/>
<line x1="1853.9" y1="2452.2" x2="1844.9" y2="2452.2" stroke="#000" stroke-width="3.0"/>
<rect x="533.3" y="2452.2" width="1320.6000000000001" height="970.8000000000002" fill="none" stroke="#000" stroke-width="3.4"/>
<text x="1194.6" y="3616.5" font-size="78" text-anchor="middle" letter-spacing="0.8" stroke="#000" stroke-width="2.4" stroke-linejoin="round">Raman shift (cm<tspan font-size="46" dy="-36">-1</tspan><tspan dy="36">)</tspan></text>
<text transform="translate(370.2,2913.3) rotate(-90) scale(0.945,1)" font-size="84" text-anchor="middle" font-weight="normal" stroke="#000" stroke-width="2.4" stroke-linejoin="round">Intensity (a.u.)</text>
<path d="M533.8,3198.5 L534.4,3198.6 L535.5,3198.4 L536.8,3198.3 L538.2,3193.4 L539.4,3192.2 L540.5,3189.1 L541.5,3187.2 L542.4,3182.0 L543.3,3180.0 L544.2,3179.4 L545.1,3179.6 L545.9,3182.4 L546.8,3186.1 L547.8,3187.5 L548.9,3189.4 L549.9,3189.9 L551.0,3189.0 L552.2,3187.0 L553.4,3184.1 L554.6,3184.6 L555.7,3185.9 L556.8,3186.4 L557.9,3186.8 L559.0,3187.1 L560.2,3189.4 L561.6,3189.3 L563.0,3189.9 L564.4,3191.3 L566.0,3194.2 L567.8,3193.7 L570.8,3194.5 L574.3,3192.2 L577.9,3192.5 L581.5,3190.2 L584.8,3190.6 L587.2,3193.7 L589.4,3193.4 L591.5,3193.7 L593.6,3195.4 L596.1,3196.7 L599.5,3198.0 L603.1,3196.7 L607.0,3195.5 L611.0,3196.6 L615.0,3196.7 L619.8,3196.7 L624.9,3197.6 L630.0,3196.5 L635.0,3196.6 L639.6,3194.4 L642.9,3195.8 L646.0,3196.6 L649.0,3195.0 L651.9,3193.8 L654.7,3192.7 L657.8,3192.3 L660.8,3187.2 L663.7,3185.1 L666.4,3183.5 L668.9,3182.9 L670.4,3182.2 L671.7,3184.0 L673.0,3184.8 L674.2,3186.4 L675.5,3186.8 L676.6,3185.8 L677.8,3186.4 L678.9,3186.6 L680.1,3184.5 L681.2,3185.2 L682.7,3186.9 L684.1,3186.8 L685.6,3189.8 L687.1,3190.4 L688.7,3193.6 L690.1,3195.4 L691.6,3195.6 L693.1,3194.0 L694.6,3195.1 L696.3,3194.6 L698.8,3194.5 L701.5,3195.5 L704.4,3192.4 L707.1,3193.7 L709.5,3191.6 L711.5,3190.9 L713.3,3187.2 L714.9,3183.6 L716.5,3182.4 L718.0,3182.0 L719.4,3182.3 L720.6,3185.0 L721.9,3186.8 L723.2,3187.7 L724.6,3191.5 L726.0,3190.9 L727.5,3189.1 L729.1,3187.3 L730.6,3186.7 L732.2,3184.6 L733.7,3184.6 L735.2,3185.7 L736.8,3187.9 L738.3,3186.7 L739.8,3189.9 L741.3,3189.1 L742.7,3189.7 L744.2,3192.7 L745.6,3192.2 L747.0,3191.2 L748.4,3191.6 L749.8,3191.8 L751.2,3190.7 L752.6,3187.6 L754.0,3186.7 L756.5,3183.7 L759.2,3178.6 L761.9,3175.1 L764.3,3170.1 L766.2,3165.3 L767.6,3159.3 L768.3,3152.7 L768.7,3145.9 L769.0,3139.4 L769.7,3133.8 L770.4,3130.7 L771.1,3128.1 L771.9,3125.5 L772.6,3122.9 L773.2,3119.8 L773.9,3113.3 L774.4,3105.2 L774.9,3097.1 L775.3,3090.9 L775.8,3088.4 L776.3,3090.0 L776.8,3094.3 L777.3,3099.9 L777.9,3105.9 L778.5,3111.1 L779.2,3116.0 L779.9,3121.6 L780.6,3126.8 L781.3,3130.6 L782.0,3132.1 L782.6,3130.7 L783.2,3127.0 L783.7,3121.9 L784.2,3116.3 L784.6,3111.1 L784.9,3104.9 L785.1,3098.4 L785.2,3091.5 L785.3,3084.1 L785.4,3076.1 L785.6,3063.1 L785.8,3048.7 L786.1,3033.3 L786.3,3016.9 L786.5,3000.0 L786.8,2975.6 L787.1,2948.5 L787.3,2920.7 L787.7,2894.5 L788.0,2872.0 L788.2,2860.4 L788.5,2850.4 L788.8,2841.0 L789.1,2831.2 L789.3,2820.0 L789.6,2801.1 L789.8,2779.8 L790.0,2757.6 L790.3,2735.9 L790.5,2716.0 L790.7,2701.2 L790.9,2686.6 L791.1,2672.8 L791.3,2660.4 L791.6,2650.0 L791.8,2644.9 L792.0,2639.7 L792.2,2635.3 L792.4,2632.2 L792.6,2631.0 L792.8,2632.2 L793.0,2635.3 L793.2,2639.7 L793.4,2644.9 L793.6,2650.0 L793.9,2660.4 L794.2,2672.8 L794.4,2686.6 L794.6,2701.2 L794.8,2716.0 L795.1,2735.9 L795.3,2757.6 L795.5,2779.8 L795.7,2801.1 L796.0,2820.0 L796.2,2831.2 L796.4,2841.0 L796.6,2850.4 L796.8,2860.4 L797.0,2872.0 L797.2,2894.5 L797.3,2920.7 L797.4,2948.5 L797.6,2975.6 L798.0,3000.0 L798.5,3016.8 L799.1,3032.9 L799.7,3048.1 L800.4,3062.5 L801.2,3076.1 L801.9,3085.7 L802.6,3094.7 L803.4,3103.2 L804.1,3111.6 L804.7,3119.8 L805.1,3127.2 L805.3,3134.7 L805.5,3141.9 L805.8,3148.6 L806.4,3154.8 L806.9,3158.8 L807.5,3162.4 L808.2,3165.9 L809.0,3169.1 L809.9,3172.3 L810.7,3175.0 L811.6,3177.6 L812.6,3179.6 L813.8,3182.0 L815.2,3184.6 L817.0,3186.5 L819.2,3187.9 L821.5,3189.7 L823.7,3192.2 L825.6,3191.7 L826.8,3191.8 L827.7,3190.9 L828.7,3189.0 L829.7,3189.2 L830.9,3185.6 L832.8,3186.7 L835.0,3186.0 L837.4,3188.3 L839.6,3188.3 L841.4,3184.5 L842.7,3184.0 L843.7,3183.4 L844.5,3181.2 L845.4,3179.2 L846.6,3177.4 L847.9,3177.8 L849.3,3178.4 L850.7,3178.5 L852.2,3180.3 L853.6,3178.1 L854.9,3181.3 L856.1,3180.4 L857.3,3182.8 L858.6,3182.4 L860.0,3182.4 L861.8,3184.3 L863.8,3183.8 L865.8,3184.5 L867.8,3184.6 L869.9,3186.9 L872.3,3188.5 L874.7,3190.2 L877.1,3190.5 L879.6,3192.9 L882.2,3193.1 L885.0,3194.2 L887.8,3196.0 L890.7,3197.6 L893.8,3197.2 L897.1,3197.9 L901.8,3198.3 L907.1,3198.5 L912.6,3197.2 L917.6,3198.0 L921.8,3195.2 L924.3,3194.2 L926.4,3190.7 L928.2,3189.3 L929.9,3186.9 L931.7,3184.1 L933.2,3184.9 L934.7,3182.1 L936.2,3182.2 L937.6,3180.6 L939.1,3178.9 L940.6,3179.6 L942.1,3181.4 L943.6,3182.5 L945.1,3184.2 L946.5,3185.4 L947.9,3185.9 L949.2,3189.5 L950.5,3189.9 L952.0,3194.2 L953.9,3194.9 L956.7,3196.5 L959.8,3198.0 L963.3,3199.3 L967.1,3198.5 L971.2,3198.9 L977.6,3200.4 L984.7,3200.1 L992.4,3201.5 L1000.3,3204.1 L1008.3,3202.0 L1017.7,3203.9 L1027.5,3202.4 L1037.6,3204.1 L1047.7,3203.6 L1057.7,3203.7 L1067.6,3204.1 L1077.5,3204.7 L1087.3,3202.8 L1097.2,3202.1 L1107.1,3200.4 L1117.3,3201.0 L1127.7,3199.3 L1138.0,3199.3 L1147.8,3197.5 L1156.5,3198.4 L1161.7,3194.7 L1166.5,3196.0 L1171.0,3196.8 L1175.4,3195.4 L1180.0,3194.5 L1185.1,3194.3 L1190.3,3192.5 L1195.5,3192.9 L1200.4,3193.9 L1204.7,3191.3 L1207.6,3188.1 L1210.3,3187.1 L1212.8,3186.1 L1215.0,3185.7 L1217.1,3182.2 L1219.0,3179.9 L1220.6,3178.5 L1222.0,3175.5 L1223.2,3171.1 L1224.5,3167.0 L1226.2,3161.4 L1227.7,3156.3 L1229.2,3148.8 L1230.5,3145.2 L1231.9,3137.8 L1233.2,3132.4 L1234.3,3126.6 L1235.4,3119.2 L1236.6,3111.4 L1238.1,3109.5 L1238.7,3108.9 L1239.4,3106.4 L1240.0,3105.7 L1240.7,3106.2 L1241.3,3104.9 L1242.5,3109.0 L1243.6,3108.6 L1244.6,3113.8 L1245.6,3119.0 L1246.7,3123.3 L1248.1,3129.1 L1249.6,3135.2 L1251.1,3140.9 L1252.6,3148.3 L1254.1,3151.3 L1255.5,3158.4 L1256.8,3163.0 L1258.2,3168.8 L1259.7,3173.7 L1261.5,3177.1 L1263.1,3180.8 L1264.8,3185.3 L1266.7,3188.0 L1268.8,3189.8 L1271.4,3194.5 L1274.7,3196.7 L1278.5,3194.7 L1282.6,3197.4 L1286.9,3200.3 L1291.2,3199.6 L1296.0,3200.1 L1301.1,3200.6 L1306.2,3201.1 L1311.2,3202.0 L1315.9,3202.1 L1319.6,3203.5 L1323.1,3202.7 L1326.5,3202.7 L1329.9,3201.9 L1333.2,3202.6 L1336.4,3201.2 L1339.6,3201.1 L1342.7,3201.3 L1345.5,3199.5 L1348.0,3198.2 L1349.9,3196.4 L1351.5,3194.2 L1352.9,3191.9 L1354.1,3189.6 L1355.4,3188.5 L1356.5,3184.6 L1357.5,3184.1 L1358.5,3180.5 L1359.4,3177.9 L1360.4,3177.5 L1361.5,3178.5 L1362.7,3182.3 L1363.8,3185.1 L1365.1,3189.8 L1366.6,3189.6 L1368.1,3187.8 L1369.7,3187.8 L1371.4,3184.6 L1373.2,3184.4 L1375.2,3183.9 L1377.6,3182.2 L1380.3,3179.1 L1383.0,3178.6 L1385.5,3180.4 L1387.6,3179.4 L1389.0,3180.7 L1389.9,3184.5 L1390.7,3188.8 L1391.5,3190.3 L1392.5,3190.4 L1393.8,3189.8 L1395.3,3187.9 L1396.9,3184.2 L1398.5,3181.6 L1399.9,3181.6 L1401.0,3181.2 L1402.0,3183.0 L1402.9,3184.6 L1403.9,3188.3 L1404.9,3187.0 L1406.2,3190.0 L1407.5,3192.6 L1408.8,3196.0 L1410.4,3199.1 L1412.3,3199.8 L1414.7,3201.0 L1417.5,3201.5 L1420.5,3203.0 L1423.8,3205.0 L1427.1,3205.1 L1431.6,3204.7 L1436.3,3205.4 L1441.4,3205.6 L1446.5,3205.8 L1451.8,3204.6 L1458.3,3204.6 L1465.4,3202.9 L1472.5,3203.0 L1478.9,3204.9 L1483.9,3200.6 L1485.8,3201.6 L1487.3,3201.3 L1488.6,3199.9 L1489.9,3199.0 L1491.3,3199.4 L1492.8,3199.9 L1494.3,3200.7 L1495.8,3200.1 L1497.3,3202.8 L1498.8,3203.1 L1500.0,3204.2 L1501.1,3205.6 L1502.2,3206.7 L1503.6,3207.6 L1505.5,3207.0 L1516.5,3209.7 L1532.9,3210.7 L1552.6,3210.9 L1573.5,3211.2 L1593.4,3210.1 L1614.9,3210.5 L1637.0,3211.7 L1659.7,3209.9 L1683.0,3211.6 L1706.8,3211.1 L1738.6,3211.5 L1775.2,3210.5 L1810.5,3211.5 L1838.3,3212.4 L1852.5,3213.3" fill="none" stroke="#ff0000" stroke-width="3.2" stroke-linejoin="round" stroke-linecap="round" />
<path d="M533.8,3420.1 L534.5,3419.1 L535.9,3418.9 L537.7,3418.0 L539.6,3418.5 L541.3,3417.3 L543.5,3416.2 L545.7,3414.5 L548.0,3410.4 L550.3,3407.0 L552.7,3406.4 L554.8,3406.3 L556.9,3407.9 L559.1,3411.6 L561.4,3412.6 L564.0,3412.5 L567.9,3415.3 L572.3,3416.5 L577.0,3415.6 L581.9,3415.7 L586.7,3416.2 L592.2,3416.9 L597.8,3417.2 L603.5,3417.5 L609.3,3417.2 L615.0,3416.9 L620.8,3416.8 L626.8,3415.8 L632.7,3413.5 L638.3,3414.1 L643.4,3414.0 L646.8,3413.1 L650.0,3414.0 L653.0,3412.8 L655.8,3411.9 L658.5,3413.0 L660.8,3410.9 L662.9,3408.6 L664.9,3407.2 L666.9,3405.7 L668.9,3404.5 L670.9,3402.9 L672.9,3405.8 L674.9,3408.0 L677.0,3409.6 L679.3,3412.0 L682.0,3413.7 L684.9,3413.1 L687.9,3413.0 L691.1,3415.9 L694.4,3414.2 L699.0,3413.9 L704.0,3415.2 L709.1,3415.4 L714.2,3414.3 L719.0,3415.2 L723.0,3413.9 L727.0,3413.2 L730.8,3413.6 L734.5,3413.4 L737.9,3411.3 L740.7,3411.1 L743.5,3409.8 L746.1,3410.9 L748.4,3406.4 L750.5,3405.9 L752.6,3399.9 L753.8,3393.2 L754.6,3386.7 L755.7,3380.4 L757.5,3376.0 L759.1,3373.8 L761.0,3372.2 L762.9,3371.7 L764.7,3371.7 L766.2,3369.8 L767.9,3365.3 L768.8,3359.2 L769.1,3352.2 L769.3,3345.0 L769.7,3338.3 L770.0,3331.4 L770.2,3323.7 L770.3,3316.4 L770.7,3310.9 L771.5,3308.6 L772.0,3308.9 L772.5,3309.8 L773.1,3310.9 L773.6,3311.8 L774.1,3312.1 L775.0,3303.7 L774.7,3284.1 L773.9,3260.5 L773.7,3239.5 L775.0,3228.2 L775.5,3227.5 L776.0,3226.9 L776.6,3226.5 L777.1,3226.4 L777.6,3226.5 L778.9,3230.6 L779.6,3239.9 L779.8,3252.1 L779.9,3265.2 L780.2,3277.2 L780.7,3291.3 L781.0,3307.9 L781.4,3323.6 L782.0,3335.4 L782.8,3340.1 L783.4,3338.9 L784.2,3335.6 L785.0,3331.0 L785.7,3325.8 L786.3,3320.8 L786.9,3313.5 L787.4,3305.4 L787.7,3296.6 L787.9,3287.2 L788.1,3277.2 L788.4,3262.0 L788.5,3245.4 L788.6,3227.7 L788.7,3209.1 L788.9,3189.8 L789.2,3163.4 L789.5,3134.7 L789.9,3105.2 L790.3,3076.4 L790.7,3049.9 L791.0,3030.0 L791.4,3010.5 L791.7,2992.1 L792.0,2975.0 L792.4,2960.0 L792.6,2950.7 L792.8,2941.2 L793.1,2932.8 L793.3,2926.8 L793.6,2924.5 L793.9,2926.8 L794.3,2932.8 L794.7,2941.2 L795.1,2950.7 L795.5,2960.0 L796.0,2975.4 L796.5,2993.1 L796.9,3012.1 L797.3,3031.3 L797.7,3049.9 L798.1,3067.5 L798.5,3085.0 L798.8,3102.5 L799.1,3120.0 L799.4,3137.3 L799.6,3154.6 L799.7,3172.1 L799.8,3189.5 L799.9,3206.0 L800.3,3221.2 L800.7,3231.5 L801.2,3241.1 L801.8,3250.3 L802.3,3259.3 L802.9,3268.4 L803.4,3277.3 L803.9,3286.2 L804.4,3295.1 L805.0,3303.7 L805.5,3312.1 L806.0,3319.4 L806.5,3326.5 L807.0,3333.5 L807.6,3340.4 L808.2,3347.1 L808.8,3353.3 L809.4,3359.5 L810.0,3365.5 L810.8,3371.3 L811.7,3376.8 L812.5,3381.5 L813.4,3386.2 L814.4,3389.4 L815.6,3393.5 L816.9,3397.2 L818.0,3398.7 L819.2,3399.9 L820.5,3402.4 L822.0,3404.0 L823.9,3407.8 L826.7,3406.6 L830.1,3408.4 L833.7,3407.4 L837.0,3407.5 L839.6,3405.6 L841.1,3402.9 L842.1,3400.2 L842.8,3397.8 L843.7,3395.6 L844.9,3393.9 L846.4,3394.4 L848.0,3396.7 L849.8,3395.4 L851.7,3398.5 L853.6,3398.8 L856.0,3400.9 L858.7,3402.8 L861.3,3403.4 L863.8,3405.0 L865.9,3403.5 L866.8,3405.5 L867.5,3403.7 L868.2,3404.2 L869.0,3403.5 L869.9,3401.1 L872.1,3403.4 L874.8,3406.0 L877.7,3409.4 L881.1,3410.5 L884.7,3412.0 L891.4,3411.9 L899.6,3414.7 L908.2,3414.9 L916.0,3412.9 L921.8,3411.6 L923.7,3409.8 L925.2,3410.9 L926.5,3411.4 L927.8,3408.7 L929.2,3407.9 L931.1,3405.3 L933.1,3401.6 L935.2,3400.9 L937.2,3396.9 L939.1,3396.8 L940.6,3397.4 L942.1,3398.7 L943.6,3399.5 L945.1,3400.9 L946.5,3401.3 L948.0,3402.5 L949.3,3405.4 L950.6,3406.7 L952.1,3408.0 L953.9,3409.6 L956.7,3411.6 L960.0,3411.6 L963.6,3412.9 L967.4,3413.4 L971.2,3415.6 L975.7,3416.8 L980.2,3418.9 L985.0,3416.8 L990.2,3418.1 L995.9,3419.9 L1006.5,3419.5 L1018.6,3419.6 L1031.6,3421.1 L1044.9,3419.2 L1057.7,3418.3 L1070.5,3417.9 L1083.8,3419.0 L1096.8,3418.5 L1108.9,3416.5 L1119.5,3415.9 L1125.1,3416.3 L1130.0,3415.3 L1134.5,3413.2 L1139.1,3413.2 L1144.2,3412.3 L1151.5,3409.7 L1159.5,3410.6 L1167.6,3410.9 L1175.1,3409.7 L1181.2,3407.6 L1183.9,3408.3 L1186.1,3408.3 L1188.1,3408.0 L1190.1,3404.1 L1192.4,3407.3 L1195.2,3403.9 L1198.3,3405.6 L1201.3,3405.8 L1204.4,3405.4 L1207.2,3404.1 L1209.9,3402.0 L1212.5,3402.1 L1215.0,3399.3 L1217.4,3395.8 L1219.5,3397.7 L1222.1,3391.3 L1224.2,3386.3 L1226.0,3377.6 L1227.7,3373.0 L1229.4,3367.0 L1230.9,3361.4 L1232.3,3354.2 L1233.6,3347.6 L1235.1,3343.8 L1236.8,3339.2 L1237.7,3338.9 L1238.6,3339.9 L1239.5,3338.7 L1240.4,3339.4 L1241.3,3339.7 L1243.0,3343.2 L1244.6,3346.0 L1246.1,3349.2 L1247.6,3354.9 L1249.2,3357.7 L1251.1,3363.2 L1252.9,3369.9 L1254.8,3373.9 L1256.8,3380.2 L1259.1,3384.4 L1261.2,3389.5 L1263.4,3394.5 L1265.8,3396.2 L1268.4,3400.2 L1271.4,3402.1 L1274.8,3404.2 L1278.6,3406.1 L1282.7,3409.9 L1286.9,3412.0 L1291.2,3411.8 L1295.7,3412.0 L1300.3,3414.1 L1305.0,3413.6 L1310.2,3415.4 L1315.9,3415.4 L1325.5,3416.2 L1335.8,3417.1 L1347.4,3416.3 L1361.2,3416.8 L1377.7,3415.7 L1456.5,3417.8 L1572.8,3416.8 L1697.1,3418.0 L1800.1,3416.8 L1852.5,3417.8" fill="none" stroke="#000" stroke-width="3.2" stroke-linejoin="round" stroke-linecap="round" />
<line x1="1094.2" y1="2501.4" x2="1207.6" y2="2501.4" stroke="#ff0000" stroke-width="2.5"/>
<line x1="1094.2" y1="2564.9" x2="1207.6" y2="2564.9" stroke="#000" stroke-width="2.5"/>
<text x="1216.5" y="2517.8" font-size="48" text-anchor="start" font-weight="normal" stroke="#000" stroke-width="2.1" stroke-linejoin="round" letter-spacing="0.25" >BMIM-I Bucky CNT gel/NWs</text>
<text x="1216.5" y="2577.5" font-size="48" text-anchor="start" font-weight="normal" stroke="#000" stroke-width="2.1" stroke-linejoin="round" >pristine CNT</text>
<text x="776.5" y="2613.5" font-size="50" text-anchor="start" font-weight="normal" stroke="#000" stroke-width="1.0" stroke-linejoin="round" >G</text>
<text x="813.8" y="2594.0" font-size="31" text-anchor="start" font-weight="normal" stroke="#000" stroke-width="1.9" stroke-linejoin="round" >+</text>
<text x="872.5" y="2703.8" font-size="48" text-anchor="start" font-weight="normal" stroke="#000" stroke-width="2.1" stroke-linejoin="round" letter-spacing="1.0" >CNTs G-band</text>
<line x1="900.5" y1="2723.8" x2="842.2" y2="2748.8" stroke="#000" stroke-width="1.6"/>
<path d="M830.3,2753.9 L842.8,2742.5 L847.2,2752.6 Z" fill="#000"/>
<text x="1145.5" y="2813.0" font-size="48" text-anchor="start" font-weight="normal" stroke="#000" stroke-width="2.1" stroke-linejoin="round" letter-spacing="0.9" >CNTs G'-band</text>
<line x1="1238.3" y1="2847.0" x2="1238.3" y2="3062.3" stroke="#000" stroke-width="2.0"/>
<path d="M1231.8,3058.3 L1244.8,3058.3 L1238.3,3080.3 Z" fill="#000"/>
<text x="1331.5" y="2895.8" font-size="48" text-anchor="start" font-weight="normal" stroke="#000" stroke-width="2.1" stroke-linejoin="round" >Alckyl chains</text>
<text x="1334.0" y="2956.6" font-size="48" text-anchor="start" font-weight="normal" stroke="#000" stroke-width="2.1" stroke-linejoin="round" letter-spacing="0.35" >CH stretching</text>
<line x1="1388.2" y1="2976.0" x2="1388.2" y2="3146.3" stroke="#000" stroke-width="2.0"/>
<path d="M1381.7,3142.3 L1394.7,3142.3 L1388.2,3164.3 Z" fill="#000"/>
<text x="1487.0" y="3042.8" font-size="48" text-anchor="start" font-weight="normal" stroke="#000" stroke-width="2.1" stroke-linejoin="round" letter-spacing="0.25" >Imidazole ring</text>
<text x="1488.0" y="3106.9" font-size="48" text-anchor="start" font-weight="normal" stroke="#000" stroke-width="2.1" stroke-linejoin="round" letter-spacing="0.3" >CH stretching</text>
<line x1="1536.7" y1="3129.4" x2="1500.4" y2="3175.6" stroke="#000" stroke-width="1.6"/>
<path d="M1489.9,3189.0 L1497.5,3169.6 L1507.0,3177.0 Z" fill="#000"/>
<text x="719.5" y="3049.0" font-size="50" text-anchor="start" font-weight="normal" stroke="#000" stroke-width="1.0" stroke-linejoin="round" >G</text>
<text x="758.5" y="3033.0" font-size="32" text-anchor="start" font-weight="normal" stroke="#000" stroke-width="0.0" stroke-linejoin="round" transform="translate(0,0)">-</text>
<text x="823.0" y="3134.0" font-size="49" text-anchor="start" font-weight="bold" stroke="#000" stroke-width="1.2" stroke-linejoin="round" >M</text>
<text transform="translate(685.4,3070.0) rotate(-90) scale(0.91,1)" font-size="54" text-anchor="middle" font-weight="normal" stroke="#000" stroke-width="0.4" stroke-linejoin="round">D-band</text>
<text transform="translate(952.0,3068.5) rotate(-90) scale(0.93,1)" font-size="54" text-anchor="middle" font-weight="normal" stroke="#000" stroke-width="0.4" stroke-linejoin="round">iTOLA</text>
</svg></body></html>
